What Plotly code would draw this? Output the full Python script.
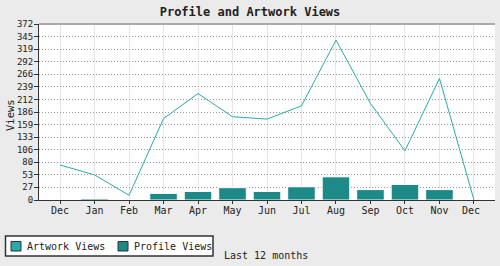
import plotly.graph_objects as go

months = ["Dec", "Jan", "Feb", "Mar", "Apr", "May", "Jun", "Jul", "Aug", "Sep", "Oct", "Nov", "Dec "]
artwork_views = [74, 53, 10, 172, 225, 176, 171, 199, 338, 204, 104, 257, 0]
profile_views = [0, 3, 0, 14, 18, 26, 18, 28, 49, 22, 33, 22, 0]
y_ticks = [0, 27, 53, 80, 106, 133, 159, 186, 212, 239, 266, 292, 319, 345, 372]
legend_names = ["Artwork Views", "Profile Views"]

LINE_C = "#2aabaa"
BAR_C = "#1e8a88"
FONT = "DejaVu Sans Mono"

W, H = 500, 266
L, R, T, B = 39, 5, 24, 66
PW, PH = W - L - R, H - T - B


def px(x):
    return (x - L) / PW


def py(y):
    return (H - B - y) / PH


fig = go.Figure()
fig.add_trace(go.Bar(x=months, y=profile_views, name="Profile Views",
                     marker=dict(color=BAR_C, line=dict(color="white", width=1)),
                     width=0.8, showlegend=False))
fig.add_trace(go.Scatter(x=months, y=artwork_views, mode="lines", name="Artwork Views",
                         line=dict(color=LINE_C, width=1), showlegend=False))

shapes = [dict(type="line", xref="paper", yref="paper", x0=0, x1=1, y0=1, y1=1,
               line=dict(color="#aaa", width=2))]
# manual legend box
shapes.append(dict(type="rect", xref="paper", yref="paper", x0=px(5.5), x1=px(213), y0=py(256),
                   y1=py(236), fillcolor="white", line=dict(color="#333", width=1.5)))
annotations = []
for i, (name, col) in enumerate(zip(legend_names, [LINE_C, BAR_C])):
    sx = [11, 118][i]
    shapes.append(dict(type="rect", xref="paper", yref="paper", x0=px(sx), x1=px(sx + 10),
                       y0=py(251), y1=py(241.5), fillcolor=col, line=dict(color="#333", width=1)))
    annotations.append(dict(text=name, xref="paper", yref="paper", x=px(sx + 14), y=py(246.5),
                            xanchor="left", yanchor="middle", showarrow=False,
                            font=dict(size=10, family=FONT, color="#222")))
annotations.append(dict(text="Last 12 months", xref="paper", yref="paper",
                        x=px(266), y=py(255), xanchor="center", yanchor="middle",
                        showarrow=False, font=dict(size=10, family=FONT, color="#222")))
annotations.append(dict(text="Views", xref="paper", yref="paper",
                        x=px(10), y=py(115), xanchor="center", yanchor="middle", textangle=-90,
                        showarrow=False, font=dict(size=10.5, family=FONT, color="#222")))

fig.update_layout(
    width=W, height=H,
    margin=dict(l=L, r=R, t=T, b=B, autoexpand=False),
    paper_bgcolor="#ebebeb", plot_bgcolor="white",
    showlegend=False,
    font=dict(family=FONT, size=10, color="#222"),
    title=dict(text="<b>Profile and Artwork Views</b>", x=0.5, xanchor="center",
               y=1 - 12 / H, yanchor="middle", font=dict(size=12, family=FONT, color="#222")),
    xaxis=dict(range=[-0.61, 12.61], showgrid=True, gridcolor="#e6e6e6", gridwidth=1,
               ticks="outside", ticklen=3, tickcolor="#333", showline=True, automargin=False,
               linecolor="#333", linewidth=1, tickfont=dict(size=10), ticklabelstandoff=-2),
    yaxis=dict(range=[0, 372], tickvals=y_ticks, ticktext=[str(v) for v in y_ticks],
               showgrid=True, gridcolor="#999", griddash="1px,2px", gridwidth=1,
               ticks="outside", ticklen=4, tickcolor="#333", showline=True, automargin=False,
               linecolor="#333", linewidth=1, zeroline=False,
               tickfont=dict(size=9), ticklabelstandoff=-1),
    shapes=shapes,
    annotations=annotations,
)

fig.write_html("out.html")
